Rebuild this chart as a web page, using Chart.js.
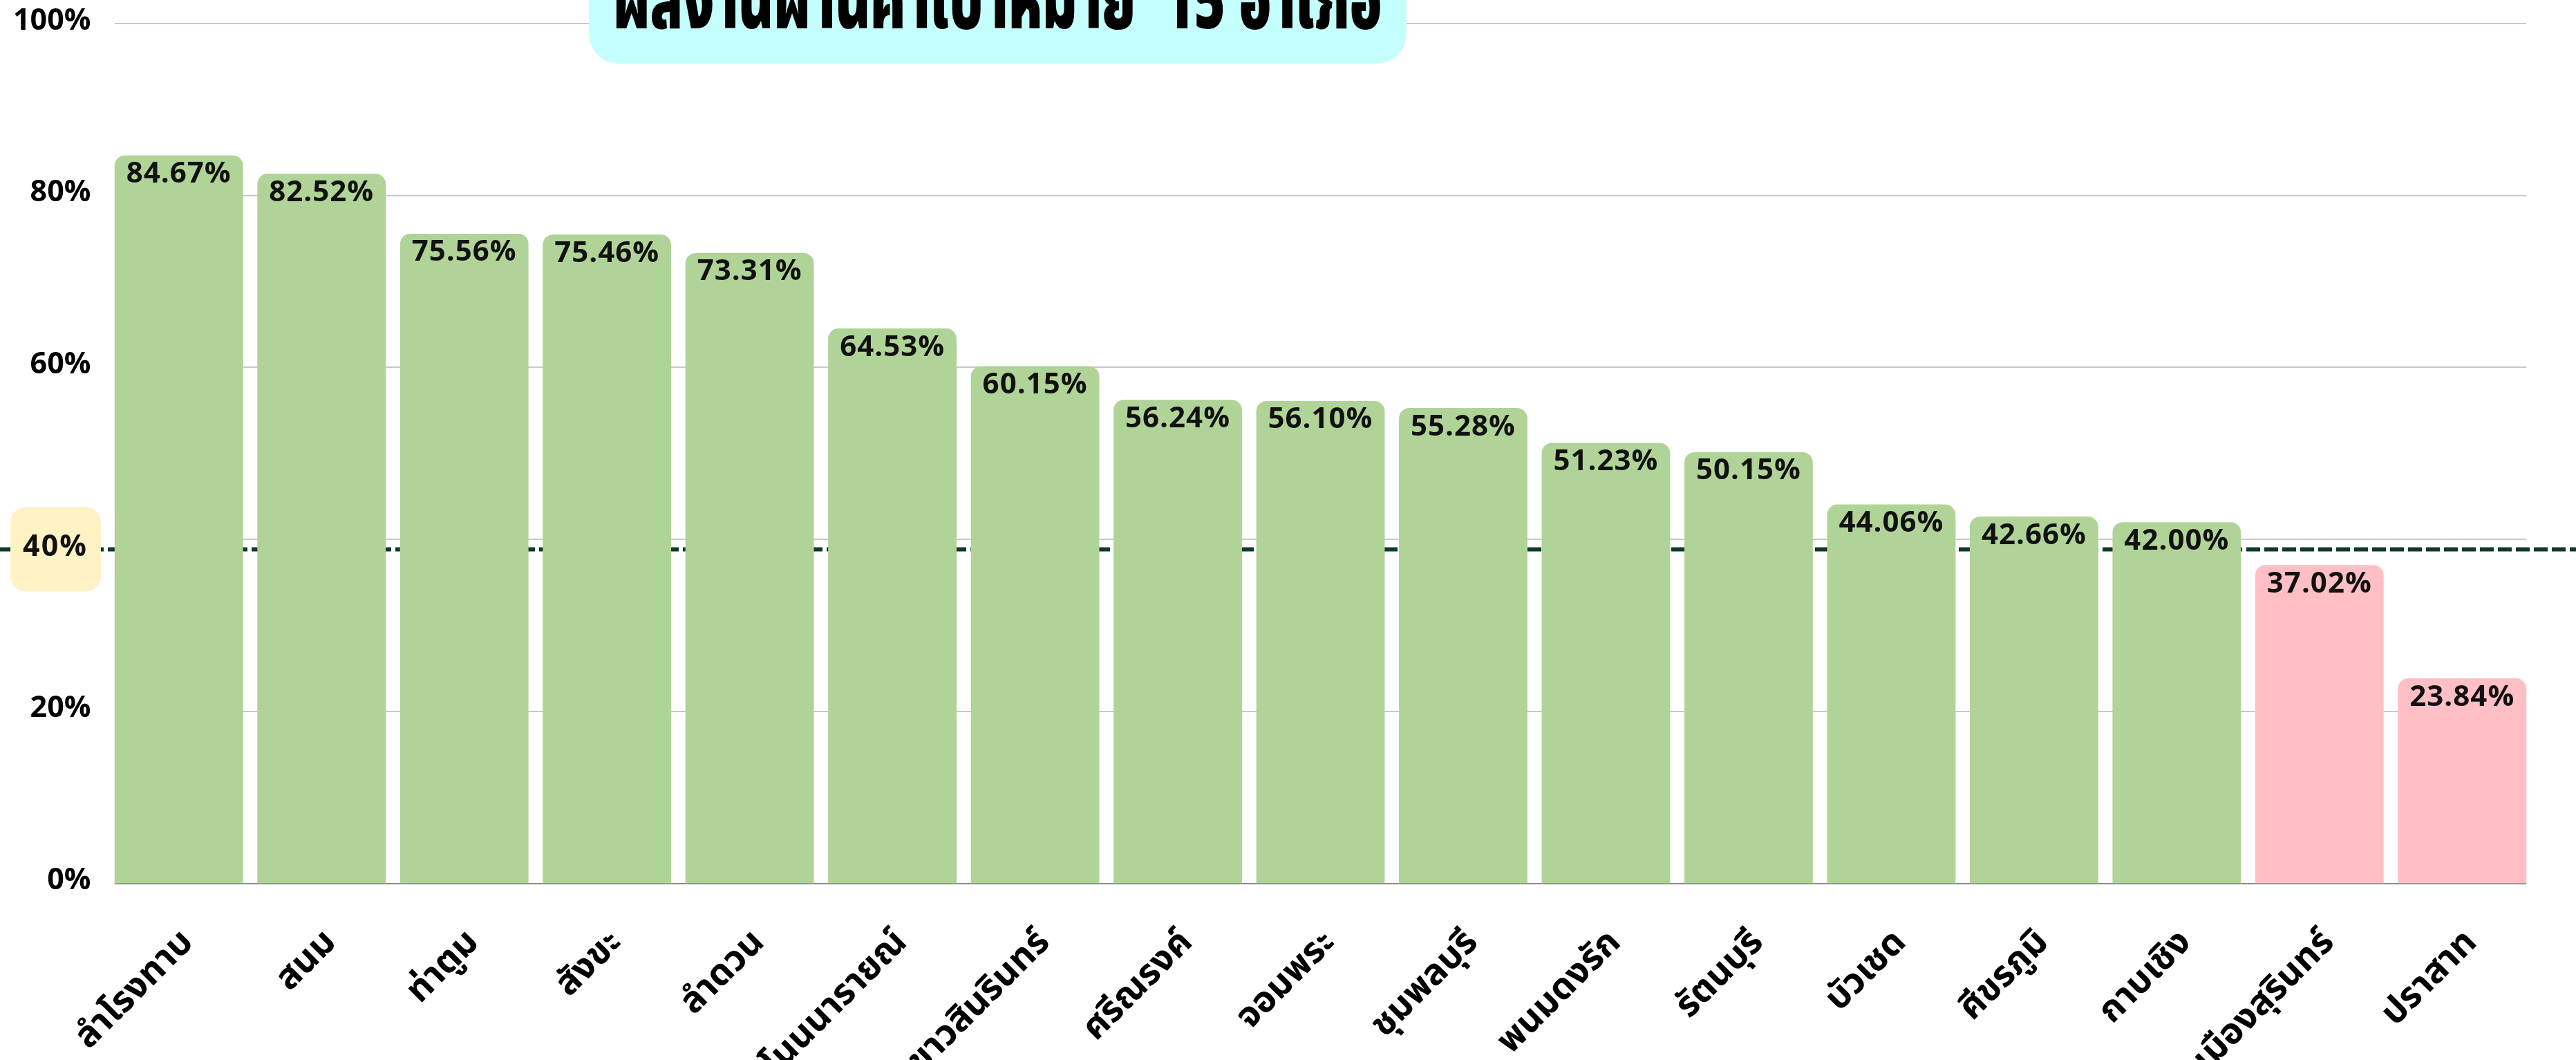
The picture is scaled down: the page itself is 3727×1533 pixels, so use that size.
<!DOCTYPE html>
<html>
<head>
<meta charset="utf-8">
<script src="https://cdn.jsdelivr.net/npm/chart.js@4.4.1/dist/chart.umd.min.js"></script>
<style>
  html, body { margin:0; padding:0; background:#fff; overflow:hidden; }
  canvas { display:block; }
</style>
</head>
<body>
<canvas id="districtChart" width="3727" height="1533"></canvas>
<script>
/* -------- DATA -------- */
const districts = ["ลำโรงทาบ","สนม","ท่าตูม","สังขะ","ลำดวน","โนนนารายณ์","เขาวสินรินทร์","ศรีณรงค์","จอมพระ","ชุมพลบุรี","พนมดงรัก","รัตนบุรี","บัวเชด","ศีขรภูมิ","กาบเชิง","เมืองสุรินทร์","ปราสาท"];
const passRate  = [84.67,82.52,75.56,75.46,73.31,64.53,60.15,56.24,56.10,55.28,51.23,50.15,44.06,42.66,42.00,37.02,23.84];
const yTicks    = [0,20,40,60,80,100];
const targetValue = 40;      // pass / fail split
const targetLine  = 38.85;   // where the dashed line sits in the picture
const chartTitle  = "ผลงานผ่านค่าเป้าหมาย  15 อำเภอ";

const THAI = '"Noto Sans Thai", "Noto Sans", sans-serif';
const GREEN = "#b0d497", PINK = "#ffbfc5";

/* -------- PLUGINS -------- */
// grid lines only across the bars, dashed target line and the yellow 40% tag
const gridAndTarget = {
  id: "gridAndTarget",
  beforeDatasetsDraw(chart) {
    const {ctx, scales:{y}} = chart;
    const bars = chart.getDatasetMeta(0).data;
    const left = bars[0].x - bars[0].width/2;
    const right = bars[bars.length-1].x + bars[bars.length-1].width/2;
    ctx.save();
    ctx.lineWidth = 2;
    yTicks.forEach(v => {
      const py = Math.round(y.getPixelForValue(v));
      ctx.strokeStyle = v === 0 ? "#8c8c8c" : "#c8c8c8";
      ctx.beginPath(); ctx.moveTo(left, py); ctx.lineTo(right, py); ctx.stroke();
    });

    const ty = y.getPixelForValue(targetLine);
    ctx.setLineDash([20,6]);
    ctx.strokeStyle = "#0f3a2a";
    ctx.lineWidth = 6;
    ctx.beginPath(); ctx.moveTo(0, ty); ctx.lineTo(chart.width, ty); ctx.stroke();
    ctx.setLineDash([]);

    ctx.fillStyle = "#fff2c4";
    ctx.beginPath(); ctx.roundRect(15, ty - 61, 131, 122, 22); ctx.fill();
    ctx.fillStyle = "#111";
    ctx.font = "bold 43px " + THAI;
    ctx.letterSpacing = "2px";
    ctx.textAlign = "center"; ctx.textBaseline = "middle";
    ctx.fillText(targetValue + "%", 80, ty + 1);
    ctx.restore();
  },
  afterDatasetsDraw(chart) {
    const {ctx} = chart;
    ctx.save();
    ctx.fillStyle = "#111";
    ctx.font = "bold 42px " + THAI;
    ctx.letterSpacing = "1px";
    ctx.textAlign = "center"; ctx.textBaseline = "middle";
    chart.getDatasetMeta(0).data.forEach((bar, i) => {
      ctx.fillText(passRate[i].toFixed(2) + "%", bar.x, bar.y + 31);
    });
    ctx.restore();
  },
  afterDraw(chart) {
    const {ctx} = chart;
    ctx.save();
    ctx.fillStyle = "#c4fffd";
    ctx.beginPath(); ctx.roundRect(852, -60, 1183, 152, 43); ctx.fill();
    ctx.fillStyle = "#000";
    ctx.font = "900 116px " + THAI;
    ctx.textAlign = "center"; ctx.textBaseline = "alphabetic";
    const w = ctx.measureText(chartTitle).width;
    const sx = 1112 / w;
    ctx.translate(1443, 41);
    ctx.scale(sx, 1);
    ctx.fillText(chartTitle, 0, 0);
    ctx.restore();
  }
};

/* -------- CHART -------- */
new Chart(document.getElementById("districtChart"), {
  type: "bar",
  data: {
    labels: districts,
    datasets: [{
      data: passRate,
      backgroundColor: passRate.map(v => v >= targetValue ? GREEN : PINK),
      borderRadius: {topLeft: 15, topRight: 15},
      borderSkipped: "start",
      categoryPercentage: 0.9,
      barPercentage: 1
    }]
  },
  options: {
    responsive: false,
    animation: false,
    layout: { padding: { top: 34, right: 61.5, left: 0, bottom: 0 } },
    plugins: { legend: {display:false}, title: {display:false}, tooltip: {enabled:false} },
    scales: {
      x: {
        grid: { display:false, drawTicks:false },
        border: { display:false },
        ticks: { color:"#000", font:{ family:THAI, size:52, weight:"bold" },
                 minRotation:45, maxRotation:45, autoSkip:false, padding:58, labelOffset:16 },
        afterFit: s => { s.height = 255.5; }
      },
      y: {
        min: 0, max: 100,
        grid: { display:false, drawTicks:false },
        border: { display:false },
        ticks: { stepSize:20, color:"#000", padding:24,
                 font:{ family:THAI, size:43, weight:"bold" },
                 callback: v => v === targetValue ? "" : v + "%" },
        afterFit: s => { s.width = 155.5; s.paddingTop = 0; s.paddingBottom = 0; }
      }
    }
  },
  plugins: [gridAndTarget]
});
</script>
</body>
</html>
